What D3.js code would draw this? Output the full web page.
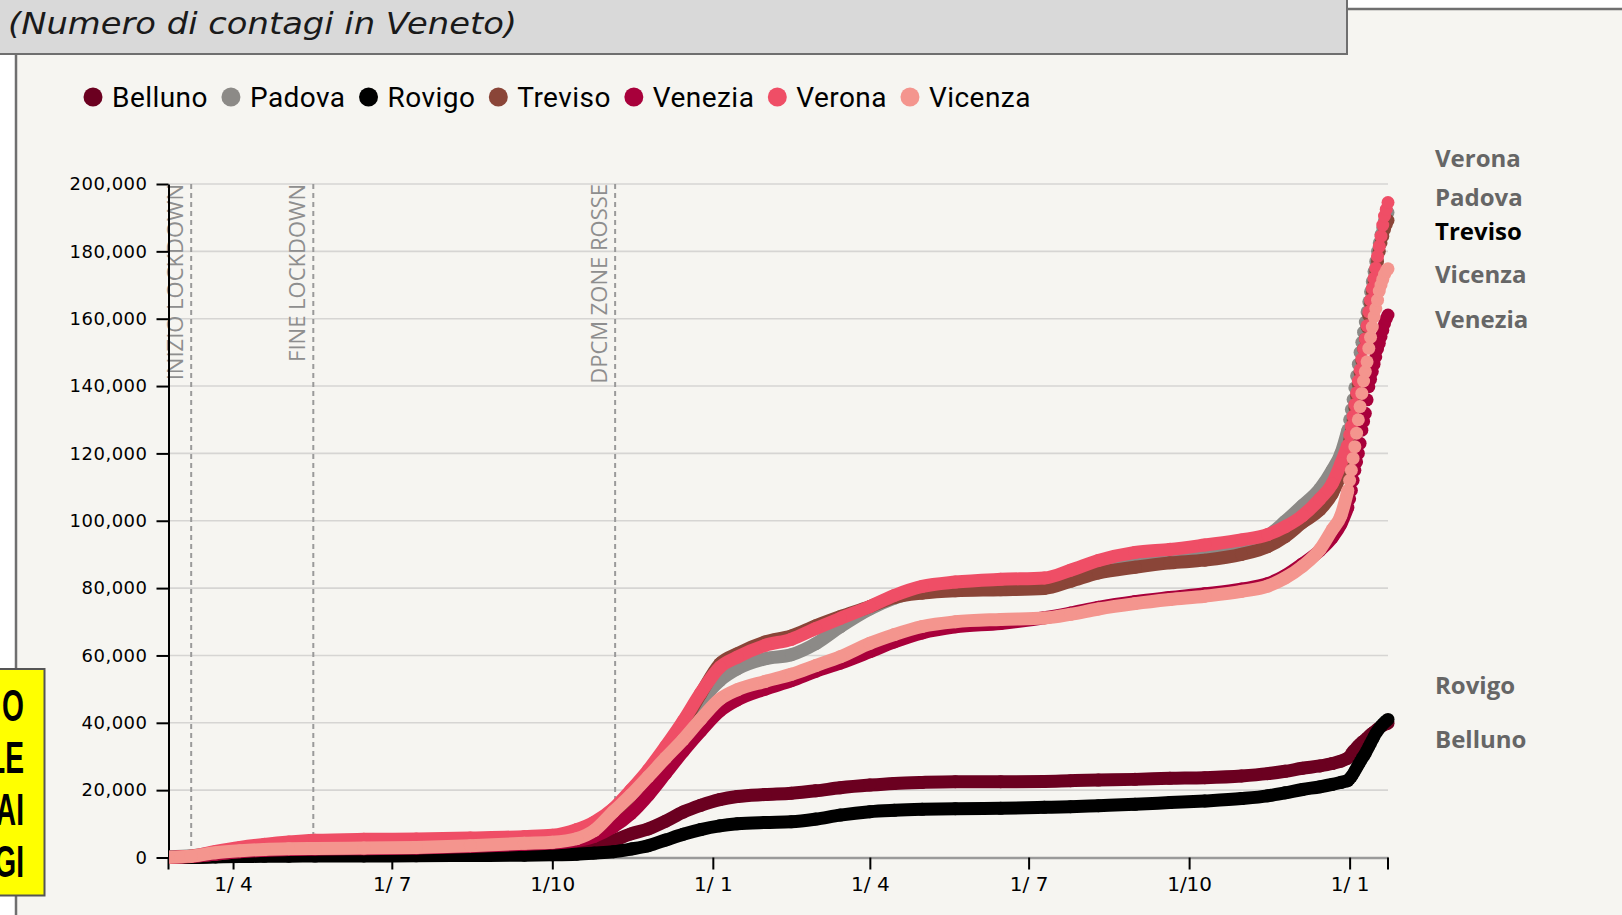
<!DOCTYPE html>
<html>
<head>
<meta charset="utf-8">
<script src="https://cdn.jsdelivr.net/npm/d3@7/dist/d3.min.js"></script>
<style>
html, body { margin: 0; padding: 0; background: #fff; }
svg { display: block; }
</style>
</head>
<body>
<div id="chart"></div>
<script>
var dates = [
	'2020-02-24','2020-03-08','2020-03-22','2020-04-05','2020-04-19','2020-05-03','2020-05-18','2020-06-15',
	'2020-07-15','2020-08-15','2020-09-15','2020-10-01','2020-10-15','2020-10-25','2020-11-05','2020-11-15',
	'2020-11-25','2020-12-05','2020-12-15','2020-12-25','2021-01-05','2021-01-15','2021-01-31','2021-02-15',
	'2021-03-01','2021-03-15','2021-04-01','2021-04-15','2021-05-01','2021-05-20','2021-06-15','2021-07-10',
	'2021-07-25','2021-08-10','2021-08-31','2021-09-20','2021-10-10','2021-10-31','2021-11-15','2021-11-25',
	'2021-12-05','2021-12-15','2021-12-22','2021-12-27',
	'2021-12-31','2022-01-01','2022-01-02','2022-01-03','2022-01-04','2022-01-05','2022-01-06','2022-01-07',
	'2022-01-08','2022-01-09','2022-01-10','2022-01-11','2022-01-12','2022-01-13','2022-01-14','2022-01-15',
	'2022-01-16','2022-01-17','2022-01-18','2022-01-19','2022-01-20','2022-01-21','2022-01-22','2022-01-23'
];

var belluno = [
	0, 50, 350, 650, 800, 900, 1000, 1000, 1050, 1200, 1400, 1600, 2200, 3200, 5000, 7000,
	8500, 10800, 13500, 15500, 17200, 18100, 18700, 19100, 19800, 20700, 21500, 22000, 22300, 22500, 22500, 22600,
	22800, 23000, 23200, 23500, 23700, 24200, 24900, 25600, 26500, 27200, 27900, 28600,
	29500, 30000, 30800, 31500, 32000, 32600, 33200, 33700, 34200, 34600, 35000, 35500, 36000, 36500, 36900, 37300,
	37700, 38100, 38500, 38900, 39200, 39500, 39700, 39900
];
var padova = [
	200, 500, 1500, 2600, 3200, 3600, 3800, 3900, 4000, 4500, 5200, 5800, 7200, 9300, 13000, 18500,
	24500, 31000, 38000, 46000, 52500, 56000, 59000, 60200, 63500, 68500, 73800, 77000, 79500, 80800, 81300, 81700,
	84000, 86600, 88600, 89700, 90800, 92700, 95500, 99800, 104500, 109500, 115000, 120000,
	127000, 130000, 133000, 136000, 139500, 143000, 146500, 150000, 153000, 156000, 159000, 162000, 165000, 168000, 171000, 174000,
	177000, 180000, 182500, 185000, 187000, 189000, 190300, 191500
];
var rovigo = [
	0, 20, 150, 300, 350, 400, 420, 450, 500, 600, 700, 800, 1000, 1300, 1700, 2500,
	3500, 5200, 6900, 8300, 9400, 10000, 10400, 10600, 11400, 12600, 13600, 14000, 14300, 14500, 14600, 14900,
	15100, 15400, 15800, 16300, 16800, 17500, 18300, 19200, 20200, 21000, 21700, 22300,
	22800, 23400, 24000, 24800, 25700, 26600, 27500, 28400, 29300, 30100, 30900, 31900, 32900, 33900, 34900, 35900,
	36900, 37600, 38300, 39000, 39600, 40100, 40600, 41000
];
var treviso = [
	50, 300, 1000, 1800, 2300, 2500, 2600, 2700, 2900, 3400, 4100, 4700, 6000, 8300, 12500, 18500,
	25000, 31000, 39500, 48500, 57500, 60500, 64000, 65800, 68800, 71500, 74500, 77200, 78500, 79200, 79500, 79900,
	82000, 84500, 86200, 87500, 88300, 90000, 92300, 95300, 99500, 103300, 108000, 114000,
	121000, 124000, 127000, 130000, 133500, 137000, 140500, 144000, 147500, 151000, 154000, 157500, 161000, 164500, 168000, 171000,
	174000, 177000, 180000, 182500, 184500, 186500, 188000, 189200
];
var venezia = [
	30, 300, 1000, 1700, 2100, 2400, 2500, 2600, 2800, 3300, 3900, 4300, 5000, 6300, 9100, 13000,
	18500, 25000, 31500, 37500, 43500, 46800, 50000, 52500, 55300, 57700, 61100, 64000, 66700, 68500, 69500, 71200,
	72600, 74300, 76000, 77200, 78300, 79700, 81300, 83700, 87200, 91200, 95000, 99000,
	104000, 106500, 109000, 112000, 115000, 117500, 120000, 123000, 126900, 129500, 131900, 135900, 139800, 142000, 144300, 146500,
	148700, 151000, 152700, 154700, 156600, 158500, 160000, 161100
];
var verona = [
	100, 400, 1800, 3000, 3900, 4600, 5100, 5400, 5500, 5800, 6200, 6600, 8300, 10500, 14500, 20000,
	26000, 33000, 40500, 48800, 56500, 59500, 63000, 64800, 68000, 71000, 74500, 77800, 80500, 81800, 82600, 83000,
	85300, 88200, 90600, 91500, 92800, 94300, 95900, 98200, 101500, 106500, 111000, 117000,
	122500, 125500, 128000, 131000, 134500, 138000, 141500, 144800, 148000, 151000, 154000, 157900, 162000, 165500, 169000, 172000,
	175000, 178500, 181500, 184500, 187800, 190500, 192500, 194500
];
var vicenza = [
	50, 400, 1400, 2000, 2400, 2600, 2700, 2800, 3000, 3500, 4200, 4500, 5600, 8000, 13600, 18500,
	24000, 29600, 35000, 41000, 47000, 49800, 52300, 54400, 57000, 59600, 63600, 66200, 68600, 70000, 70700, 71100,
	72200, 73800, 75400, 76600, 77600, 79000, 80600, 83000, 86500, 91500, 97300, 101500,
	109000, 112000, 115000, 118500, 122000, 126000, 130000, 133900, 137800, 141500, 144300, 147200, 151200, 154500, 157500, 160600,
	163000, 165500, 168200, 170000, 171700, 173200, 174200, 174800
];

var provinces = ['Belluno', 'Padova', 'Rovigo', 'Treviso', 'Venezia', 'Verona', 'Vicenza'];
var colors = ['#6b0020', '#8c8a87', '#000000', '#8a4538', '#a8003b', '#ef4e66', '#f4958e'];
var seriesValues = [belluno, padova, rovigo, treviso, venezia, verona, vicenza];

// from this day on the data is daily and drawn as dots only
var dailyFrom = '2021-12-31';

var yTicks = [0, 20000, 40000, 60000, 80000, 100000, 120000, 140000, 160000, 180000, 200000];

var eventDates = ['2020-03-08', '2020-05-17', '2020-11-06'];
var eventLabels = ['INIZIO LOCKDOWN', 'FINE LOCKDOWN', 'DPCM ZONE ROSSE'];

// labels at the right of the chart, top to bottom
var sideLabels = ['Verona', 'Padova', 'Treviso', 'Vicenza', 'Venezia', 'Rovigo', 'Belluno'];
var sideLabelY = [167.3, 205.7, 240, 283.3, 328.3, 694, 748.3];

var titleText = '(Numero di contagi in Veneto)';
var boxLines = ['O', 'LE', 'AI', 'GI'];

var W = 1622, H = 915;
var plot = { left: 168.5, right: 1388, top: 184, bottom: 857.5 };

var parse = d3.utcParse('%Y-%m-%d');
var series = provinces.map(function (name, i) {
	return {
		name: name,
		color: colors[i],
		values: dates.map(function (d, j) { return { date: parse(d), value: seriesValues[i][j] }; })
	};
});

var svg = d3.select('#chart').append('svg')
	.attr('width', W)
	.attr('height', H);

svg.append('rect').attr('width', W).attr('height', H).attr('fill', '#fff');

// chart frame
svg.append('rect')
	.attr('x', 16).attr('y', 9)
	.attr('width', W).attr('height', H)
	.attr('fill', '#f6f5f1')
	.attr('stroke', '#6f6f6f')
	.attr('stroke-width', 2.5);

var x = d3.scaleUtc()
	.domain(d3.extent(dates, function (d) { return parse(d); }))
	.range([plot.left, plot.right]);

var y = d3.scaleLinear()
	.domain([0, 200000])
	.range([plot.bottom, plot.top]);

// grid
svg.append('g')
	.selectAll('line')
	.data(yTicks.filter(function (d) { return d > 0; }))
	.enter().append('line')
	.attr('x1', plot.left).attr('x2', plot.right)
	.attr('y1', function (d) { return y(d); })
	.attr('y2', function (d) { return y(d); })
	.attr('stroke', '#d6d5d3')
	.attr('stroke-width', 1.6);

// event lines
var events = svg.append('g');
eventDates.forEach(function (d, i) {
	var ex = x(parse(d));
	events.append('line')
		.attr('x1', ex).attr('x2', ex)
		.attr('y1', plot.top).attr('y2', plot.bottom)
		.attr('stroke', '#9a9a9a')
		.attr('stroke-width', 2)
		.attr('stroke-dasharray', '5,4');
	events.append('text')
		.attr('transform', 'translate(' + (ex - 8) + ',' + plot.top + ') rotate(-90)')
		.attr('text-anchor', 'end')
		.attr('font-family', '"Open Sans", sans-serif')
		.attr('font-size', 22)
		.attr('fill', '#8e8e8e')
		.text(eventLabels[i]);
});

// y axis
var yAxis = d3.axisLeft(y)
	.tickValues(yTicks)
	.tickSize(12)
	.tickSizeOuter(0)
	.tickPadding(9)
	.tickFormat(d3.format(','));

var yg = svg.append('g')
	.attr('transform', 'translate(' + plot.left + ',0)')
	.call(yAxis);
yg.select('.domain').attr('stroke', '#000').attr('stroke-width', 2);
yg.selectAll('.tick line').attr('stroke', '#000').attr('stroke-width', 2);
yg.selectAll('.tick text')
	.attr('font-family', '"DejaVu Sans", sans-serif')
	.attr('font-size', 18)
	.attr('letter-spacing', 0.5)
	.attr('fill', '#000');

// x axis
var xAxis = d3.axisBottom(x)
	.ticks(d3.utcMonth.every(3))
	.tickSize(12)
	.tickSizeOuter(0)
	.tickPadding(7)
	.tickFormat(function (d) {
		return d.getUTCDate() + '/' + String(d.getUTCMonth() + 1).padStart(2, ' ');
	});

var xg = svg.append('g')
	.attr('transform', 'translate(0,' + plot.bottom + ')')
	.call(xAxis);
xg.select('.domain').attr('stroke', '#9a9a9a').attr('stroke-width', 2.5);
xg.selectAll('.tick line').attr('stroke', '#000').attr('stroke-width', 2);
xg.selectAll('.tick text')
	.attr('font-family', '"DejaVu Sans", sans-serif')
	.attr('font-size', 20)
	.attr('fill', '#000')
	.style('white-space', 'pre');
xg.selectAll('.endtick')
	.data(x.range())
	.enter().append('line')
	.attr('x1', function (d) { return d; })
	.attr('x2', function (d) { return d; })
	.attr('y1', 0).attr('y2', 12)
	.attr('stroke', '#000')
	.attr('stroke-width', 2);

// series
svg.append('clipPath').attr('id', 'plotclip')
	.append('rect')
	.attr('x', plot.left + 1).attr('y', 0)
	.attr('width', W).attr('height', H);

var line = d3.line()
	.curve(d3.curveMonotoneX)
	.x(function (d) { return x(d.date); })
	.y(function (d) { return y(d.value); });

var cut = parse(dailyFrom);
var lines = svg.append('g').attr('clip-path', 'url(#plotclip)');
series.forEach(function (s) {
	var g = lines.append('g');
	g.append('path')
		.datum(s.values.filter(function (d) { return d.date <= cut; }))
		.attr('d', line)
		.attr('fill', 'none')
		.attr('stroke', s.color)
		.attr('stroke-width', 13)
		.attr('stroke-linejoin', 'round');
	g.selectAll('circle')
		.data(s.values)
		.enter().append('circle')
		.attr('cx', function (d) { return x(d.date); })
		.attr('cy', function (d) { return y(d.value); })
		.attr('r', 6.5)
		.attr('fill', s.color);
});

// legend
var legend = svg.append('g');
var lx = 93;
series.forEach(function (s) {
	legend.append('circle')
		.attr('cx', lx).attr('cy', 97)
		.attr('r', 9.5)
		.attr('fill', s.color);
	var t = legend.append('text')
		.attr('x', lx + 19).attr('y', 107)
		.attr('font-family', 'Roboto, sans-serif')
		.attr('font-size', 28)
		.attr('letter-spacing', 0.45)
		.attr('fill', '#000')
		.text(s.name);
	lx += 19 + t.node().getComputedTextLength() + 23;
});

// side labels
svg.append('g')
	.selectAll('text')
	.data(sideLabels)
	.enter().append('text')
	.attr('x', 1435)
	.attr('y', function (d, i) { return sideLabelY[i]; })
	.attr('font-family', '"Open Sans", sans-serif')
	.attr('font-weight', 'bold')
	.attr('font-size', 24)
	.attr('fill', function (d) { return d === 'Treviso' ? '#000' : '#666'; })
	.text(function (d) { return d; });

// title box
svg.append('rect')
	.attr('x', -3).attr('y', -3)
	.attr('width', 1350).attr('height', 57)
	.attr('fill', '#d9d9d9')
	.attr('stroke', '#6f6f6f')
	.attr('stroke-width', 2);

svg.append('text')
	.attr('x', 8).attr('y', 34)
	.attr('font-family', '"DejaVu Sans", sans-serif')
	.attr('font-style', 'italic')
	.attr('font-size', 30)
	.attr('fill', '#1a1a1a')
	.attr('textLength', 509)
	.attr('lengthAdjust', 'spacingAndGlyphs')
	.text(titleText);

// yellow side box
svg.append('rect')
	.attr('x', -3).attr('y', 669)
	.attr('width', 47.5).attr('height', 226.5)
	.attr('fill', '#ffff00')
	.attr('stroke', '#555')
	.attr('stroke-width', 2);

svg.append('g')
	.attr('transform', 'translate(24,0) scale(0.64,1)')
	.selectAll('text')
	.data(boxLines)
	.enter().append('text')
	.attr('x', 0)
	.attr('y', function (d, i) { return 721 + i * 52; })
	.attr('text-anchor', 'end')
	.attr('font-family', '"Liberation Sans", Arial, sans-serif')
	.attr('font-weight', 'bold')
	.attr('font-size', 44)
	.attr('fill', '#000')
	.text(function (d) { return d; });
</script>
</body>
</html>
